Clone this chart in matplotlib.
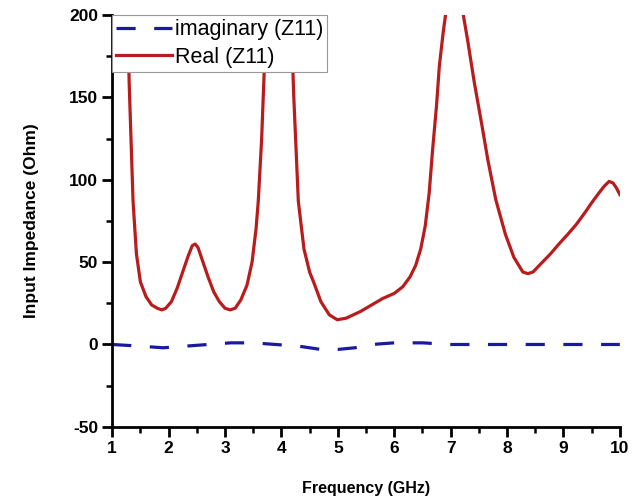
import matplotlib.pyplot as plt
from matplotlib.ticker import MultipleLocator

# === data ===
freq_real = [1.0, 1.05, 1.1, 1.15, 1.2, 1.25, 1.3, 1.37, 1.43, 1.5, 1.6, 1.7, 1.8, 1.88,
             1.95, 2.05, 2.15, 2.25, 2.35, 2.42, 2.47, 2.52, 2.6, 2.7, 2.8, 2.9, 3.0,
             3.09, 3.18, 3.28, 3.39, 3.48, 3.55, 3.59, 3.65, 3.7, 3.75, 3.85, 3.95,
             4.05, 4.12, 4.17, 4.22, 4.3, 4.4, 4.5, 4.57, 4.7, 4.85, 4.99, 5.15, 5.4,
             5.6, 5.8, 6.0, 6.15, 6.28, 6.38, 6.47, 6.55, 6.62, 6.68, 6.75, 6.8, 6.87,
             6.93, 7.0, 7.07, 7.14, 7.2, 7.3, 7.42, 7.55, 7.66, 7.8, 7.97, 8.12, 8.28,
             8.37, 8.46, 8.6, 8.77, 8.92, 9.08, 9.23, 9.38, 9.5, 9.63, 9.72, 9.81,
             9.88, 9.94, 10.0]
real_z11 = [165, 240, 330, 390, 360, 280, 160, 87, 55, 38, 29, 24, 22, 21,
            22, 26, 34, 44, 54, 60, 61, 59, 51, 41, 32, 26, 22,
            21, 22, 27, 36, 50, 70, 87, 125, 170, 210, 320, 400,
            330, 250, 200, 150, 87, 58, 44, 38, 26, 18, 15, 16, 20,
            24, 28, 31, 35, 41, 48, 58, 72, 92, 118, 145, 169, 190,
            205, 260, 300, 260, 205, 185, 159, 134, 112, 88, 67, 53, 44,
            43, 44, 49, 55, 61, 67, 73, 80, 86, 92, 96, 99,
            98, 95, 91]

freq_imag = [1.0, 1.5, 1.9, 2.3, 2.7, 3.1, 3.5, 3.9, 4.3, 4.7, 5.0, 5.3, 5.6, 6.0,
             6.5, 7.0, 7.5, 8.0, 8.5, 9.0, 9.5, 10.0]
imag_z11 = [0, -1, -2, -1, 0, 1, 1, 0, -1, -3, -3, -2, 0, 1,
            1, 0, 0, 0, 0, 0, 0, 0]

plt.rcParams['font.family'] = ['Liberation Sans', 'DejaVu Sans']
plt.rcParams['axes.unicode_minus'] = False

fig = plt.figure(figsize=(6.41, 5.01), dpi=100)
ax = fig.add_axes([0.175, 0.148, 0.792, 0.822])

ax.plot(freq_imag, imag_z11, color='#1a1aa0', lw=2.3, dashes=(6.0, 5.8), label='imaginary (Z11)')
ax.plot(freq_real, real_z11, color='#b81c1c', lw=2.3, label='Real (Z11)')

ax.set_xlim(1, 10)
ax.set_ylim(-50, 200)
ax.xaxis.set_major_locator(MultipleLocator(1))
ax.xaxis.set_minor_locator(MultipleLocator(0.5))
ax.yaxis.set_major_locator(MultipleLocator(50))
ax.yaxis.set_minor_locator(MultipleLocator(25))

for s in ['top', 'right']:
    ax.spines[s].set_visible(False)
for s in ['left', 'bottom']:
    ax.spines[s].set_linewidth(2.0)

ax.tick_params(which='major', direction='out', length=7, width=2.0, labelsize=12.5, pad=3)
ax.tick_params(which='minor', direction='out', length=4.5, width=1.8)
for lab in ax.get_xticklabels() + ax.get_yticklabels():
    lab.set_fontweight('bold')

ax.set_xlabel('Frequency (GHz)', fontsize=11.5, fontweight='bold', labelpad=18)
ax.set_ylabel('Input Impedance (Ohm)', fontsize=12.5, fontweight='bold', labelpad=22)

leg = ax.legend(loc='upper left', bbox_to_anchor=(0, 1), borderaxespad=0,
                fancybox=False, edgecolor='#999999', fontsize=15.5,
                handlelength=2.6, handletextpad=0.1, borderpad=0.2,
                labelspacing=0.3, framealpha=1)
leg.get_frame().set_linewidth(0.8)

fig.savefig('out.png', dpi=100)
